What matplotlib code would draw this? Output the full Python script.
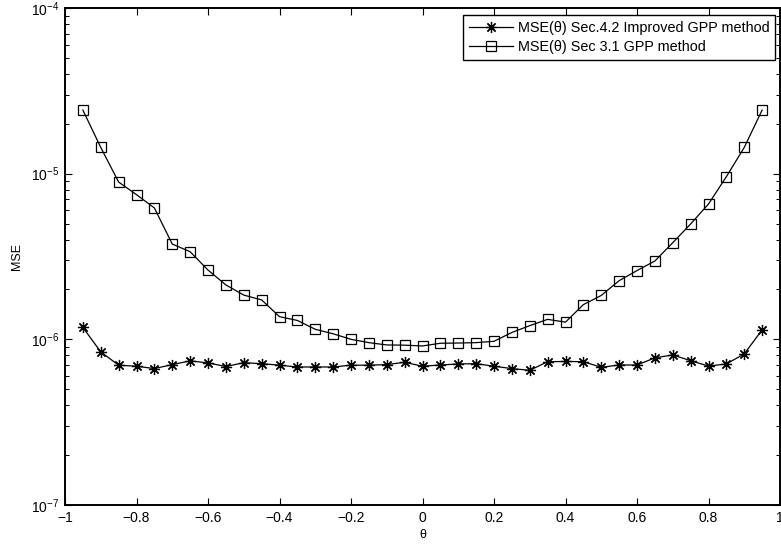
import matplotlib
matplotlib.use("Agg")
import matplotlib.pyplot as plt
from matplotlib.ticker import LogLocator, FixedLocator, FixedFormatter, NullFormatter

plt.rcParams['font.family'] = ['Liberation Sans', 'DejaVu Sans']
plt.rcParams['mathtext.fontset'] = 'custom'
plt.rcParams['mathtext.rm'] = 'Liberation Sans'
plt.rcParams['mathtext.it'] = 'Liberation Sans:italic'
plt.rcParams['font.size'] = 10

# theta grid
theta = [-0.95, -0.90, -0.85, -0.80, -0.75, -0.70, -0.65, -0.60, -0.55, -0.50,
         -0.45, -0.40, -0.35, -0.30, -0.25, -0.20, -0.15, -0.10, -0.05, 0.00,
         0.05, 0.10, 0.15, 0.20, 0.25, 0.30, 0.35, 0.40, 0.45, 0.50,
         0.55, 0.60, 0.65, 0.70, 0.75, 0.80, 0.85, 0.90, 0.95]

# improved GPP (Sec. 4.2)
mse_improved = [1.18e-6, 8.4e-7, 6.98e-7, 6.88e-7, 6.66e-7, 7.04e-7, 7.41e-7, 7.21e-7, 6.85e-7, 7.23e-7,
                7.13e-7, 6.98e-7, 6.81e-7, 6.81e-7, 6.81e-7, 6.98e-7, 6.98e-7, 7.04e-7, 7.27e-7, 6.88e-7,
                7.0e-7, 7.1e-7, 7.13e-7, 6.88e-7, 6.66e-7, 6.5e-7, 7.33e-7, 7.35e-7, 7.33e-7, 6.78e-7,
                7.0e-7, 7.0e-7, 7.73e-7, 8.05e-7, 7.43e-7, 6.9e-7, 7.1e-7, 8.17e-7, 1.14e-6]

# plain GPP (Sec. 3.1)
mse_gpp = [2.42e-5, 1.44e-5, 8.9e-6, 7.47e-6, 6.21e-6, 3.76e-6, 3.38e-6, 2.62e-6, 2.13e-6, 1.85e-6,
           1.73e-6, 1.37e-6, 1.30e-6, 1.15e-6, 1.08e-6, 1.0e-6, 9.55e-7, 9.25e-7, 9.22e-7, 9.12e-7,
           9.47e-7, 9.5e-7, 9.55e-7, 9.73e-7, 1.10e-6, 1.21e-6, 1.32e-6, 1.27e-6, 1.62e-6, 1.84e-6,
           2.26e-6, 2.60e-6, 2.97e-6, 3.83e-6, 4.97e-6, 6.56e-6, 9.59e-6, 1.44e-5, 2.42e-5]

xticks = [-1, -0.8, -0.6, -0.4, -0.2, 0, 0.2, 0.4, 0.6, 0.8, 1]
xticklabels = ['\u22121', '\u22120.8', '\u22120.6', '\u22120.4', '\u22120.2', '0',
               '0.2', '0.4', '0.6', '0.8', '1']

fig = plt.figure(figsize=(7.81, 5.44), dpi=100)
ax = fig.add_axes([65 / 781, 39 / 544, 715 / 781, 497 / 544])

# 8-spoke asterisk marker
ax.semilogy(theta, mse_improved, color='black', lw=0.9, marker=(8, 2, 0), ms=8,
            mew=0.9, label='MSE(\u03b8) Sec.4.2 Improved GPP method')
ax.semilogy(theta, mse_gpp, color='black', lw=0.9, marker='s', ms=7,
            mfc='none', mew=0.9, label='MSE(\u03b8) Sec 3.1 GPP method')

ax.set_xlim(-1, 1)
ax.set_ylim(1e-7, 1e-4)
ax.xaxis.set_major_locator(FixedLocator(xticks))
ax.xaxis.set_major_formatter(FixedFormatter(xticklabels))
ax.yaxis.set_major_locator(LogLocator(base=10, numticks=10))
ax.yaxis.set_minor_locator(LogLocator(base=10, subs=range(2, 10), numticks=10))
ax.yaxis.set_minor_formatter(NullFormatter())

ax.tick_params(which='both', direction='in', top=True, right=True)
ax.tick_params(which='major', length=5, width=0.8, pad=4)
ax.tick_params(which='minor', length=3, width=0.7)
for s in ax.spines.values():
    s.set_linewidth(1.4)

ax.set_xlabel('\u03b8', fontsize=9, labelpad=3)
ax.set_ylabel('MSE', fontsize=9, labelpad=6)

leg = ax.legend(loc='upper right', bbox_to_anchor=(0.993, 0.986), borderaxespad=0,
                fancybox=False, edgecolor='black', framealpha=1, handlelength=3.0,
                handletextpad=0.35, labelspacing=0.35, borderpad=0.4,
                prop={'size': 10.4})
leg.get_frame().set_linewidth(1.0)

fig.savefig('out.png', dpi=100)
